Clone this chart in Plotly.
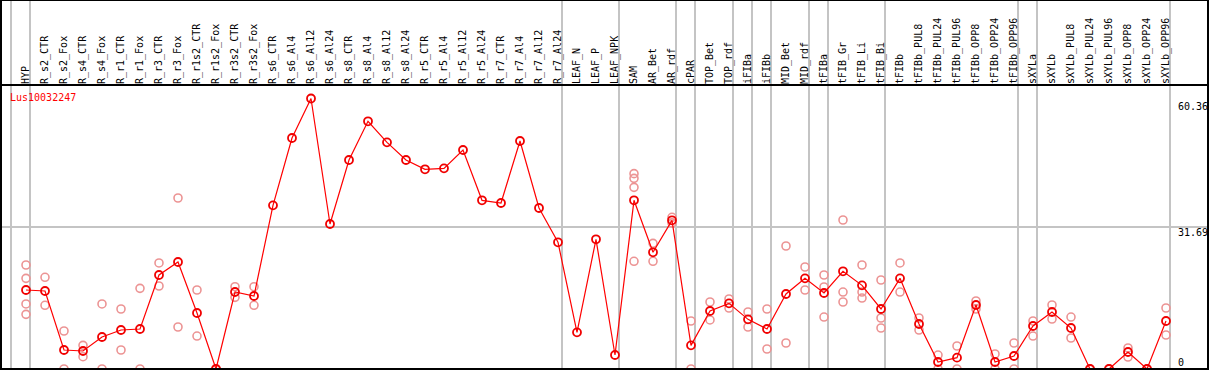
import plotly.graph_objects as go

gene = "Lus10032247"

categories = [
    "HYP", "R_s2_CTR", "R_s2_Fox", "R_s4_CTR", "R_s4_Fox", "R_r1_CTR", "R_r1_Fox",
    "R_r3_CTR", "R_r3_Fox", "R_r1s2_CTR", "R_r1s2_Fox", "R_r3s2_CTR", "R_r3s2_Fox",
    "R_s6_CTR", "R_s6_Al4", "R_s6_Al12", "R_s6_Al24", "R_s8_CTR", "R_s8_Al4",
    "R_s8_Al12", "R_s8_Al24", "R_r5_CTR", "R_r5_Al4", "R_r5_Al12", "R_r5_Al24",
    "R_r7_CTR", "R_r7_Al4", "R_r7_Al12", "R_r7_Al24", "LEAF_N", "LEAF_P", "LEAF_NPK",
    "SAM", "AR_Bet", "AR_rdf", "cPAR", "TOP_Bet", "TOP_rdf", "iFIBa", "iFIBb",
    "MID_Bet", "MID_rdf", "tFIBa", "tFIB_Gr", "tFIB_Li", "tFIB_Bi", "tFIBb",
    "tFIBb_PUL8", "tFIBb_PUL24", "tFIBb_PUL96", "tFIBb_OPP8", "tFIBb_OPP24",
    "tFIBb_OPP96", "sXYLa", "sXYLb", "sXYLb_PUL8", "sXYLb_PUL24", "sXYLb_PUL96",
    "sXYLb_OPP8", "sXYLb_OPP24", "sXYLb_OPP96",
]

means = [
    17.63, 17.41, 4.24, 4.02, 7.14, 8.70, 8.93, 20.98, 23.88, 12.50, 0.0, 17.18, 16.29,
    36.52, 51.55, 60.36, 32.36, 46.64, 55.27, 50.58, 46.64, 44.56, 44.78, 48.87, 37.64,
    37.05, 50.88, 35.93, 28.27, 8.18, 28.94, 3.12,
    37.64, 26.04, 33.18, 5.28, 12.94, 14.65, 11.08, 8.93, 16.74, 20.23, 16.96, 21.80,
    18.67, 13.39, 20.23, 10.04, 1.56, 2.53, 14.28, 1.56, 2.90, 9.60, 12.72, 9.15,
    0.0, 0.0, 3.79, 0.0, 10.71,
]

replicates = [
    [23.21, 20.23, 14.51, 12.20], [20.46, 14.21], [8.48, 0.0], [5.28, 2.75],
    [14.51, 0.0], [13.39, 4.24], [18.00, 0.0], [23.66, 18.52], [38.16, 9.37],
    [17.63, 7.36], [0.0, 0.0], [18.37, 15.99], [18.37, 14.21],
    [], [], [], [], [], [], [], [], [], [], [], [], [], [], [], [], [], [], [],
    [43.59, 42.55, 40.54, 24.03], [28.04, 24.03], [33.85, 32.60], [10.71, 0.0],
    [14.95, 10.94], [15.62, 13.61], [12.72, 9.37], [13.39, 4.46], [27.45, 5.80],
    [22.76, 17.63], [20.98, 18.30, 11.60], [33.25, 17.18, 14.95],
    [23.21, 17.18, 15.84], [19.86, 11.38, 9.15], [23.66, 17.18], [11.38, 8.70],
    [3.12, 0.0], [5.13, 0.0], [15.18, 13.39], [3.35, 0.0], [5.80, 0.0],
    [10.71, 7.36], [14.28, 11.16], [11.60, 6.92], [0.0, 0.0], [0.0, 0.0],
    [4.69, 2.68], [0.0, 0.0], [13.61, 7.59],
]

y_ticks = [60.36, 31.69, 0]
y_tick_labels = ["60.36", "31.69", "0"]

# group separators: after these category indices
separators = [-1, 0, 28, 31, 34, 35, 37, 38, 39, 41, 42, 45, 52, 53, 60]

W, H = 1209, 370
x_idx = list(range(len(categories)))

rep_x, rep_y = [], []
for i, reps in enumerate(replicates):
    for v in reps:
        rep_x.append(i)
        rep_y.append(v)

fig = go.Figure()
fig.add_trace(go.Scatter(
    x=rep_x, y=rep_y, mode="markers",
    marker=dict(symbol="circle-open", size=8, color="#ec9494", line=dict(width=1.6, color="#ec9494")),
    hoverinfo="skip", showlegend=False,
))
fig.add_trace(go.Scatter(
    x=x_idx, y=means, mode="lines+markers",
    line=dict(color="#ff0000", width=1.2),
    marker=dict(symbol="circle-open", size=8, color="#f00000", line=dict(width=1.8, color="#f00000")),
    showlegend=False,
))

ymax = max(means) * 1.05
shapes = []
for s in separators:
    shapes.append(dict(type="line", xref="x", yref="paper", x0=s + 0.21, x1=s + 0.21,
                       y0=1 / H, y1=1, line=dict(color="#c4c4c4", width=2), layer="below"))
shapes.append(dict(type="line", xref="paper", yref="y", x0=0, x1=1, y0=y_ticks[1], y1=y_ticks[1],
                   line=dict(color="#c4c4c4", width=2), layer="below"))
black = dict(color="#000000", width=2)
for yy in [1, (H - 85) / H, 1 / H]:
    shapes.append(dict(type="line", xref="paper", yref="paper", x0=0, x1=1, y0=yy, y1=yy, line=black))
for xx in [1 / W, 1208 / W]:
    shapes.append(dict(type="line", xref="paper", yref="paper", x0=xx, x1=xx, y0=0, y1=1, line=black))

annotations = [dict(text=gene, xref="paper", yref="paper", x=8 / W, y=(H - 97) / H,
                    xanchor="left", yanchor="middle", showarrow=False,
                    font=dict(family="DejaVu Sans Mono", size=10, color="#ff0000"))]
shifts = {0: -8, 1: -5, 2: 7}
for k, (v, t) in enumerate(zip(y_ticks, y_tick_labels)):
    annotations.append(dict(text=t, xref="paper", yref="y", x=1176 / W, y=v,
                            xanchor="left", yanchor="middle", yshift=shifts[k], showarrow=False,
                            font=dict(family="DejaVu Sans Mono", size=10, color="#000000")))

fig.update_layout(
    template="none",
    width=W, height=H,
    margin=dict(l=0, r=0, t=0, b=0, pad=0),
    paper_bgcolor="white", plot_bgcolor="white",
    xaxis=dict(range=[-26 / 19, (W - 26) / 19], side="top", tickmode="array",
               tickvals=x_idx, ticktext=categories, tickangle=-90, ticks="",
               showgrid=False, zeroline=False, showline=False, automargin=False,
               tickfont=dict(family="DejaVu Sans Mono", size=10, color="#000000")),
    yaxis=dict(range=[0, ymax], domain=[1 / H, (H - 85) / H], showgrid=False,
               zeroline=False, showline=False, showticklabels=False, ticks="",
               automargin=False),
    shapes=shapes, annotations=annotations,
)

fig.write_html("out.html", config={"displayModeBar": False},
               post_script="document.body.style.margin='0';document.body.style.overflow='hidden';")
